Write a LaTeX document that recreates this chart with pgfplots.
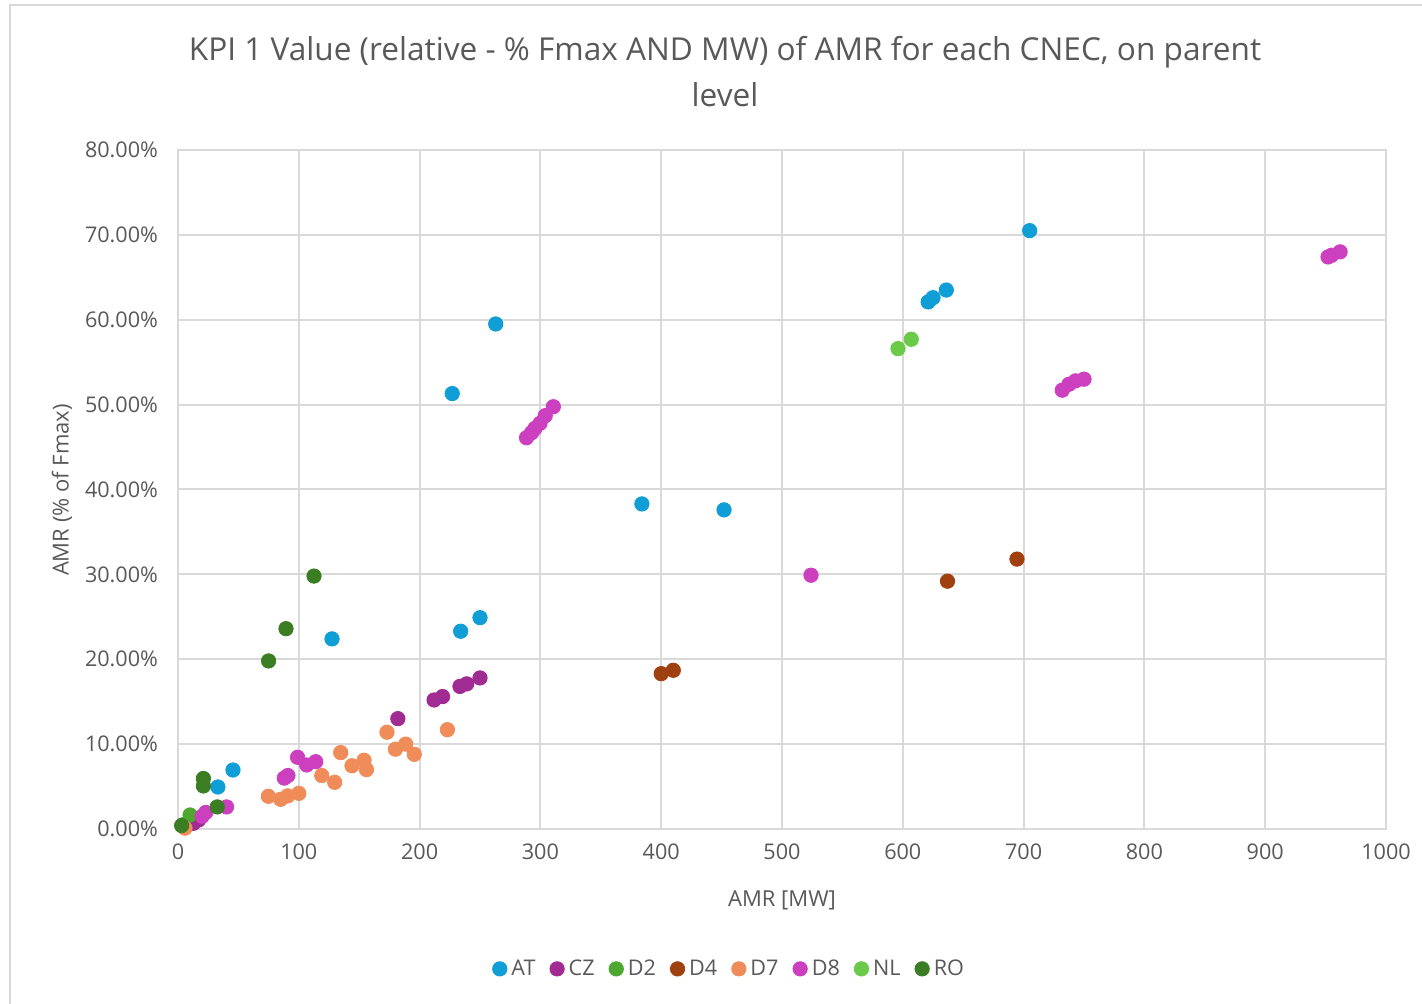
\documentclass[border=0pt]{standalone}
\usepackage{fontspec}
\setmainfont{Open Sans}
\usepackage{pgfplots}
\pgfplotsset{compat=1.18}
\definecolor{cAT}{HTML}{0F9ED5}
\definecolor{cCZ}{HTML}{A02B93}
\definecolor{cD2}{HTML}{4EA72E}
\definecolor{cD4}{HTML}{A0400F}
\definecolor{cD7}{HTML}{F08C5A}
\definecolor{cD8}{HTML}{CC3FBF}
\definecolor{cNL}{HTML}{6BCB48}
\definecolor{cRO}{HTML}{3B7D23}
\definecolor{txt}{HTML}{595959}
\definecolor{grd}{HTML}{D9D9D9}
\begin{document}
\begin{tikzpicture}[x=0.5pt,y=0.5pt]
\useasboundingbox (0,0) rectangle (1422,1004);
\fill[white] (0,0) rectangle (1422,1004);
\draw[grd,line width=1pt] (10,-5) -- (10,999) -- (1430,999);
\node[text=txt,font=\fontsize{15.8}{23}\selectfont,align=center] at (725,932) {KPI 1 Value (relative - \% Fmax AND MW) of AMR for each CNEC, on parent\\level};
\node[text=txt,font=\fontsize{11}{13}\selectfont] at (782,104) {AMR [MW]};
\node[text=txt,font=\fontsize{11}{13}\selectfont,rotate=90] at (62,514) {AMR (\% of Fmax)};
\begin{axis}[
  at={(89pt,87.5pt)}, anchor=south west,
  width=604pt, height=339.5pt, scale only axis,
  xmin=0, xmax=1000, ymin=0, ymax=80,
  xtick={0,100,...,1000},
  ytick={0,10,...,80},
  yticklabels={0.00\%,10.00\%,20.00\%,30.00\%,40.00\%,50.00\%,60.00\%,70.00\%,80.00\%},
  xticklabel style={/pgf/number format/assume math mode=true,/pgf/number format/1000 sep={},font=\fontsize{10.8}{12}\selectfont,text=txt},
  yticklabel style={font=\fontsize{10.8}{12}\selectfont,text=txt},
  /pgf/number format/assume math mode=true,
  /pgf/number format/1000 sep={},
  grid=major, major grid style={grd,line width=1pt},
  axis line style={grd,line width=1pt},
  tick style={draw=none},
  xtick pos=bottom, ytick pos=left,
  xticklabel shift=4pt, yticklabel shift=6.5pt,
  clip=false,
  legend columns=8,
  legend style={at={(0.457,-0.206)}, anchor=center, draw=none, fill=none,
    font=\fontsize{10.8}{12}\selectfont, text=txt,
    /tikz/every even column/.append style={column sep=5pt}},
  legend image code/.code={\fill[#1] (0.12cm,0) circle (3.6pt);},
  every axis plot/.append style={only marks, mark=*, mark size=3.6pt},
]
\addplot[cAT, mark options={draw=none,fill=cAT}] coordinates {
(705,70.5) (636,63.5) (625,62.6) (621,62.1) (263,59.5) (227,51.3) (384,38.3) (452,37.6)
(250,24.9) (234,23.3) (127.5,22.4) (45.5,6.95) (33,4.95)};
\addlegendentry{AT}
\addplot[cCZ, mark options={draw=none,fill=cCZ}] coordinates {
(250,17.8) (239,17.1) (233.4,16.8) (219,15.6) (212,15.2) (182,13.0) (17,1.06) (12.7,0.67)};
\addlegendentry{CZ}
\addplot[cD2, mark options={draw=none,fill=cD2}] coordinates {
(10,1.65) (4,0.5)};
\addlegendentry{D2}
\addplot[cD4, mark options={draw=none,fill=cD4}] coordinates {
(400,18.3) (410,18.7) (637,29.2) (694.5,31.8)};
\addlegendentry{D4}
\addplot[cD7, mark options={draw=none,fill=cD7}] coordinates {
(223,11.7) (173,11.4) (180,9.4) (188.5,10.0) (195.6,8.8) (134.7,9.0) (154,8.1) (156,7.0)
(144,7.45) (119,6.3) (129.7,5.5) (100,4.2) (90.8,3.9) (85,3.5) (74.8,3.85) (5.8,0.1)};
\addlegendentry{D7}
\addplot[cD8, mark options={draw=none,fill=cD8}] coordinates {
(962,68.0) (955,67.6) (952,67.4) (750,53.0) (743,52.8) (737.6,52.4) (732,51.7)
(310.7,49.75) (304,48.7) (299.7,47.8) (295.5,47.2) (292.8,46.7) (288.5,46.1)
(524,29.9) (99,8.45) (106.5,7.54) (114,7.93) (91,6.3) (88,6.0)
(40.2,2.6) (23,1.95) (20,1.5)};
\addlegendentry{D8}
\addplot[cNL, mark options={draw=none,fill=cNL}] coordinates {
(596,56.6) (607,57.7)};
\addlegendentry{NL}
\addplot[cRO, mark options={draw=none,fill=cRO}] coordinates {
(112.6,29.8) (89.4,23.6) (75,19.8) (21,5.95) (21,5.07) (32.5,2.6) (3,0.4)};
\addlegendentry{RO}
\end{axis}
\end{tikzpicture}
\end{document}
